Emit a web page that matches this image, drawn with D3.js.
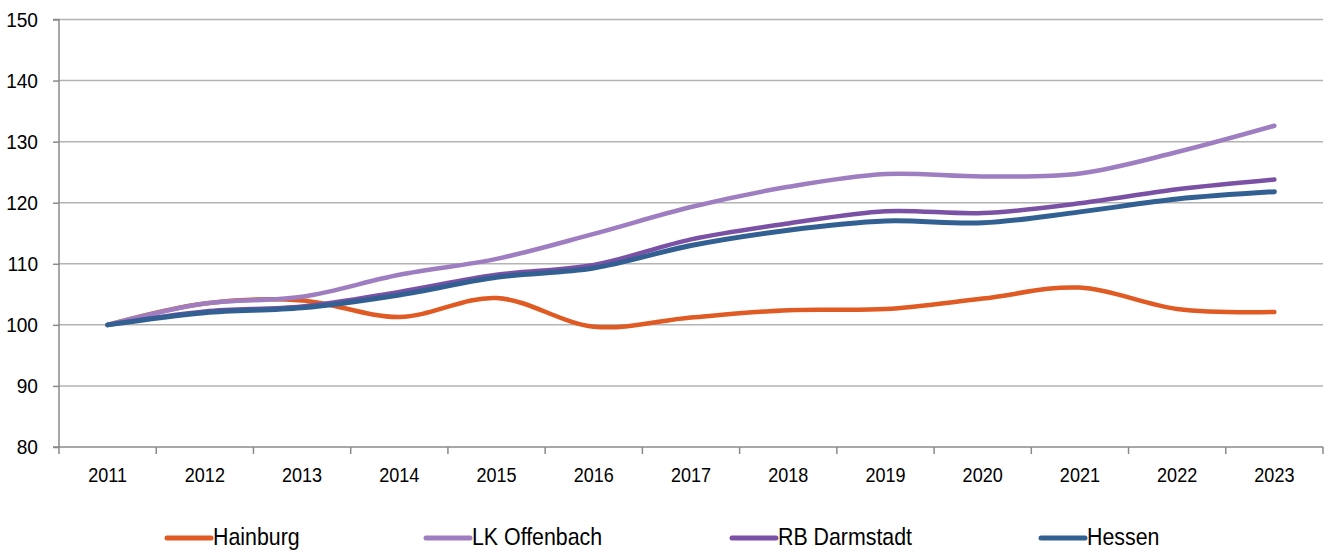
<!DOCTYPE html>
<html>
<head>
<meta charset="utf-8">
<script src="https://cdn.jsdelivr.net/npm/d3@7"></script>
<style>
  body { margin: 0; background: #fff; }
  svg text { font-family: "Liberation Sans", Arial, sans-serif; fill: #000; }
</style>
</head>
<body>
<div id="chart"></div>
<script>
// years on the x axis
var years = ["2011", "2012", "2013", "2014", "2015", "2016", "2017",
             "2018", "2019", "2020", "2021", "2022", "2023"];

// index values (2011 = 100)
var hainburg   = [100, 103.5, 104.0, 101.3, 104.4, 99.7, 101.2, 102.4, 102.6, 104.3, 106.1, 102.6, 102.1];
var offenbach  = [100, 103.5, 104.6, 108.2, 110.8, 114.9, 119.3, 122.6, 124.7, 124.3, 124.8, 128.3, 132.6];
var darmstadt  = [100, 102.2, 103.0, 105.4, 108.2, 109.8, 114.0, 116.6, 118.6, 118.3, 119.9, 122.2, 123.8];
var hessen     = [100, 102.0, 102.8, 104.9, 107.8, 109.3, 113.0, 115.5, 117.0, 116.7, 118.5, 120.6, 121.8];

var seriesNames = ["Hainburg", "LK Offenbach", "RB Darmstadt", "Hessen"];
var yTicks = [80, 90, 100, 110, 120, 130, 140, 150];

var seriesValues = [hainburg, offenbach, darmstadt, hessen];
var colors = ["#e05a24", "#9e7dc0", "#7a51a5", "#336092"];
var widths = [4.5, 4.5, 4.5, 5];

var svgWidth = 1329;
var svgHeight = 556;
var margin = { top: 19.5, right: 6, bottom: 109, left: 59 };

// the reference font is a bit narrow, so texts get squeezed sideways
var ySquash = 0.91, xSquash = 0.86, legendSquash = 0.89;

var svg = d3.select("#chart")
  .append("svg")
  .attr("width", svgWidth)
  .attr("height", svgHeight);

var xScale = d3.scaleBand()
  .domain(years)
  .range([margin.left, svgWidth - margin.right])
  .padding(0);

var yScale = d3.scaleLinear()
  .domain([80, 150])
  .range([svgHeight - margin.bottom, margin.top]);

var x0 = margin.left, x1 = svgWidth - margin.right;
var yBase = yScale(80);

// horizontal gridlines
svg.append("g")
  .selectAll("line")
  .data(yTicks.filter(d => d > 80))
  .enter()
  .append("line")
  .attr("x1", x0)
  .attr("x2", x1)
  .attr("y1", d => yScale(d))
  .attr("y2", d => yScale(d))
  .attr("stroke", "#b4b4b4")
  .attr("stroke-width", 1.5);

// y axis
var yAxis = svg.append("g")
  .attr("transform", `translate(${x0},0)`)
  .call(d3.axisLeft(yScale).tickValues(yTicks).tickSize(6).tickPadding(15));
yAxis.selectAll("path, line").attr("stroke", "#8a8a8a").attr("stroke-width", 1.5);
yAxis.select(".domain").attr("d", `M-6,${yScale(150)}H0V${yBase}H-6`);
yAxis.selectAll("text")
  .style("font-size", "21px")
  .attr("font-family", null)
  .attr("x", -21 / ySquash)
  .attr("transform", `scale(${ySquash},1)`);

// x axis, labels centred, ticks on the band edges
var xAxis = svg.append("g")
  .attr("transform", `translate(0,${yBase})`)
  .call(d3.axisBottom(xScale).tickSize(0).tickPadding(20));
xAxis.select(".domain").attr("stroke", "#8a8a8a").attr("stroke-width", 1.5)
  .attr("d", `M${x0},0H${x1}`);
xAxis.selectAll("text")
  .style("font-size", "21px")
  .attr("font-family", null)
  .attr("transform", `scale(${xSquash},1)`);

var edges = years.map(d => xScale(d)).concat([x1]);
xAxis.selectAll(".edge")
  .data(edges)
  .enter()
  .append("line")
  .attr("class", "edge")
  .attr("x1", d => d)
  .attr("x2", d => d)
  .attr("y1", 0)
  .attr("y2", 7)
  .attr("stroke", "#8a8a8a")
  .attr("stroke-width", 1.5);

// smoothed lines
var line = d3.line()
  .x((d, i) => xScale(years[i]) + xScale.bandwidth() / 2)
  .y(d => yScale(d))
  .curve(d3.curveCardinal);

svg.append("g")
  .selectAll("path")
  .data(seriesValues)
  .enter()
  .append("path")
  .attr("d", d => line(d))
  .attr("fill", "none")
  .attr("stroke", (d, i) => colors[i])
  .attr("stroke-width", (d, i) => widths[i])
  .attr("stroke-linecap", "round")
  .attr("stroke-linejoin", "round");

// legend
var legendX = [167, 426, 732, 1041];
var legendY = 538;
var legend = svg.append("g")
  .selectAll("g")
  .data(seriesNames)
  .enter()
  .append("g")
  .attr("transform", (d, i) => `translate(${legendX[i]},${legendY})`);

legend.append("line")
  .attr("x1", 0)
  .attr("x2", 44)
  .attr("y1", 0)
  .attr("y2", 0)
  .attr("stroke", (d, i) => colors[i])
  .attr("stroke-width", 5)
  .attr("stroke-linecap", "round");

legend.append("text")
  .attr("x", 46 / legendSquash)
  .attr("y", 7)
  .attr("transform", `scale(${legendSquash},1)`)
  .style("font-size", "24px")
  .text(d => d);
</script>
</body>
</html>
